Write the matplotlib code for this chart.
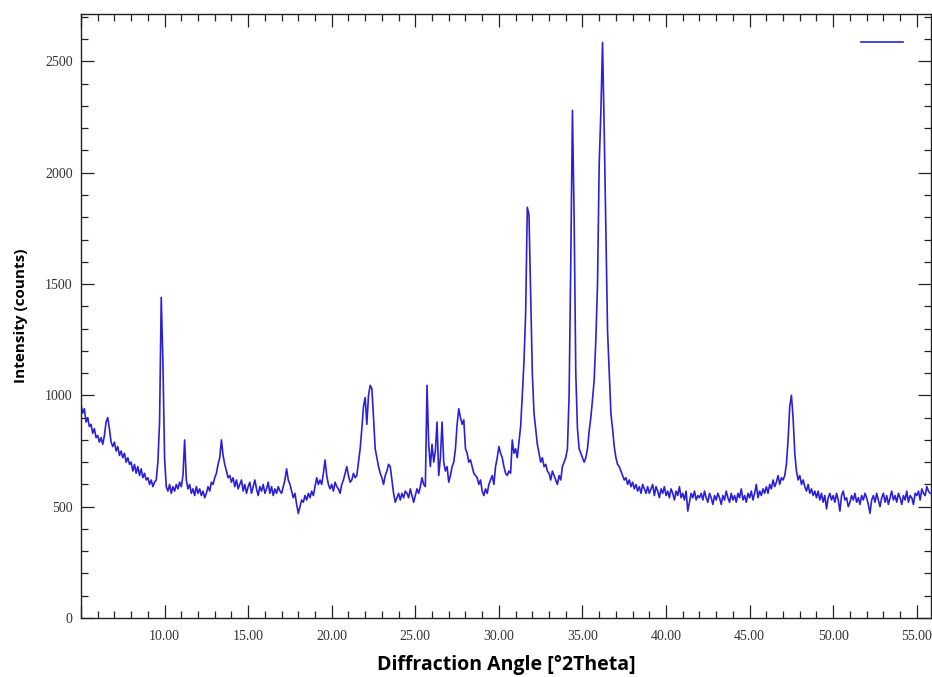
import numpy as np
import matplotlib
matplotlib.use("Agg")
import matplotlib.pyplot as plt
from matplotlib.ticker import MultipleLocator, FuncFormatter

# 2Theta grid, 0.1 deg step from 5.0 to 55.8
two_theta = np.round(np.arange(5.0, 55.85, 0.1), 1)

# intensity (counts), one row per degree
counts = [
    960, 920, 940, 880, 900, 860, 870, 830, 850, 810,      # 5
    820, 790, 810, 780, 820, 880, 900, 850, 790, 770,      # 6
    790, 750, 770, 730, 750, 720, 740, 700, 720, 690,      # 7
    700, 660, 690, 650, 680, 640, 670, 630, 650, 620,      # 8
    630, 600, 620, 590, 610, 620, 700, 880, 1440, 1150,    # 9
    720, 590, 570, 600, 560, 590, 570, 600, 580, 610,      # 10
    590, 640, 800, 620, 580, 600, 560, 580, 550, 590,      # 11
    560, 580, 550, 570, 540, 560, 590, 570, 610, 600,      # 12
    630, 650, 690, 720, 800, 730, 690, 660, 630, 640,      # 13
    610, 630, 590, 620, 580, 600, 620, 570, 600, 560,      # 14
    590, 610, 560, 590, 620, 580, 550, 590, 570, 600,      # 15
    560, 580, 610, 560, 590, 550, 580, 560, 590, 570,      # 16
    560, 590, 620, 670, 620, 600, 570, 540, 560, 510,      # 17
    470, 500, 530, 520, 550, 530, 560, 540, 570, 550,      # 18
    590, 630, 600, 620, 600, 650, 710, 640, 600, 580,      # 19
    600, 570, 610, 590, 580, 560, 600, 620, 650, 680,      # 20
    640, 610, 620, 650, 630, 640, 700, 760, 850, 950,      # 21
    990, 870, 1000, 1045, 1030, 900, 760, 720, 680, 650,   # 22
    630, 600, 640, 660, 690, 680, 620, 560, 520, 540,      # 23
    560, 530, 560, 540, 570, 560, 540, 580, 550, 520,      # 24
    550, 580, 560, 590, 630, 600, 590, 1045, 780, 680,     # 25
    780, 700, 750, 880, 640, 720, 880, 700, 660, 680,      # 26
    610, 640, 680, 700, 760, 870, 940, 900, 870, 890,      # 27
    760, 740, 700, 710, 680, 650, 640, 630, 600, 620,      # 28
    570, 550, 580, 560, 600, 620, 640, 600, 680, 720,      # 29
    770, 740, 720, 680, 650, 640, 660, 650, 800, 740,      # 30
    760, 720, 790, 860, 1000, 1150, 1370, 1845, 1810, 1450,  # 31
    1100, 920, 850, 780, 740, 700, 720, 680, 690, 660,     # 32
    650, 620, 660, 640, 620, 600, 640, 620, 680, 700,      # 33
    720, 760, 1000, 1600, 2280, 1800, 1100, 850, 760, 740,  # 34
    720, 700, 720, 760, 840, 900, 980, 1070, 1250, 1500,   # 35
    2040, 2270, 2585, 2190, 1740, 1290, 1100, 920, 850, 770,  # 36
    720, 690, 680, 660, 640, 620, 630, 600, 620, 590,      # 37
    610, 580, 600, 570, 590, 560, 600, 580, 560, 590,      # 38
    560, 580, 600, 550, 590, 570, 540, 580, 560, 590,      # 39
    550, 570, 540, 580, 560, 530, 570, 550, 590, 540,      # 40
    560, 530, 570, 480, 520, 560, 540, 570, 530, 550,      # 41
    540, 560, 530, 570, 540, 520, 560, 540, 510, 550,      # 42
    530, 560, 540, 510, 550, 530, 570, 540, 520, 560,      # 43
    530, 550, 520, 560, 540, 580, 530, 550, 520, 560,      # 44
    540, 570, 530, 560, 600, 540, 570, 550, 580, 560,      # 45
    590, 560, 600, 580, 620, 590, 610, 640, 600, 630,      # 46
    620, 640, 690, 800, 950, 1000, 900, 740, 660, 620,     # 47
    640, 600, 620, 590, 570, 600, 560, 580, 550, 570,      # 48
    540, 570, 530, 560, 520, 550, 490, 540, 560, 530,      # 49
    550, 520, 560, 530, 480, 550, 570, 530, 540, 500,      # 50
    520, 550, 530, 560, 520, 540, 510, 550, 530, 560,      # 51
    540, 510, 470, 530, 550, 520, 560, 530, 500, 540,      # 52
    560, 520, 550, 510, 540, 570, 530, 550, 520, 560,      # 53
    540, 510, 550, 530, 570, 520, 550, 540, 510, 560,      # 54
    550, 570, 530, 580, 560, 550, 590, 570, 560,           # 55
]

line_color = "#2b20d8"

fig = plt.figure(figsize=(9.32, 6.77), dpi=100)
ax = fig.add_axes([81 / 932, 1 - 618 / 677, 850 / 932, 604 / 677])

ln, = ax.plot(two_theta, counts, color=line_color, lw=1.2)

ax.set_xlim(5.0, 55.85)
ax.set_ylim(0, 2713)

ax.xaxis.set_major_locator(MultipleLocator(5))
ax.xaxis.set_minor_locator(MultipleLocator(1))
# the 5.00 label at the left edge is not shown in the original
ax.xaxis.set_major_formatter(FuncFormatter(lambda v, p: "" if v < 7 else f"{v:.2f}"))
ax.yaxis.set_major_locator(MultipleLocator(500))
ax.yaxis.set_minor_locator(MultipleLocator(100))

ax.tick_params(which="both", direction="in", top=True, right=True,
               color="#222222", width=0.9)
ax.tick_params(which="major", length=9.5)
ax.tick_params(which="minor", length=4.8)
ax.tick_params(axis="x", pad=9)
ax.tick_params(axis="y", pad=6)
for lab in ax.get_xticklabels() + ax.get_yticklabels():
    lab.set_fontfamily("Liberation Serif")
    lab.set_fontsize(10)
    lab.set_color("#333333")

for sp in ax.spines.values():
    sp.set_color("#222222")
    sp.set_linewidth(1.0)

ax.set_xlabel("Diffraction Angle [°2Theta]", fontfamily="Open Sans",
              fontweight="bold", fontsize=14)
ax.xaxis.set_label_coords(0.5, -0.062)
ax.set_ylabel("Intensity (counts)", fontfamily="Open Sans",
              fontweight="bold", fontsize=11)
ax.yaxis.set_label_coords(-0.062, 0.5)

ax.legend([ln], [""], loc="center right", bbox_to_anchor=(0.967, 0.952),
          frameon=False, handlelength=3, handletextpad=0, borderpad=0,
          borderaxespad=0)

fig.savefig("out.png", dpi=100)
